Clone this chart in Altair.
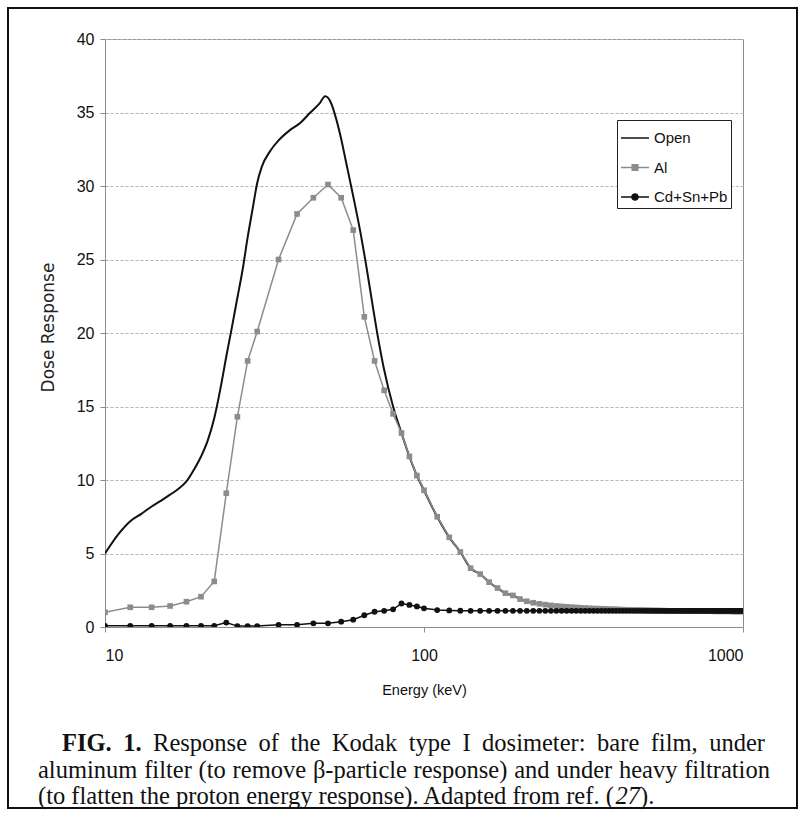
import altair as alt
import pandas as pd

# ---------------- data ----------------
series_names = ["Open", "Al", "Cd+Sn+Pb"]

open_energy = [10, 11, 12, 13, 14, 15, 16, 17, 18, 19, 20, 21, 22, 23, 24, 25, 26, 27, 28, 29,
               30, 31, 33, 35, 38, 41, 44, 47, 49, 51, 53, 55, 57, 60, 63, 66, 69, 72, 75, 80,
               85, 90, 95, 100, 110, 120, 130, 140, 150, 160, 170, 180, 190, 200, 250, 300,
               400, 500, 700, 1000]
open_dose = [5.0, 6.3, 7.2, 7.7, 8.2, 8.6, 9.0, 9.4, 9.9, 10.7, 11.6, 12.7, 14.2, 16.2, 18.4,
             20.4, 22.4, 24.3, 26.5, 28.4, 30.2, 31.3, 32.4, 33.1, 33.8, 34.3, 35.0, 35.6, 36.1,
             35.7, 34.6, 33.2, 31.6, 29.3, 27.0, 24.5, 21.9, 19.5, 17.5, 15.0, 13.2, 11.6, 10.3,
             9.3, 7.5, 6.1, 5.1, 4.0, 3.6, 3.05, 2.65, 2.3, 2.15, 1.9, 1.47, 1.33, 1.2, 1.12,
             1.08, 1.05]

step_energy = [10, 12, 14, 16, 18, 20, 22, 24, 26, 28,
               30, 35, 40, 45, 50, 55, 60, 65, 70, 75,
               80, 85, 90, 95, 100, 110, 120, 130, 140, 150,
               160, 170, 180, 190, 200, 210, 220, 230, 240, 250,
               260, 270, 280, 290, 300, 310, 320, 330, 340, 350,
               360, 370, 380, 390, 400, 410, 420, 430, 440, 450,
               460, 470, 480, 490, 500, 510, 520, 530, 540, 550,
               560, 570, 580, 590, 600, 610, 620, 630, 640, 650,
               660, 670, 680, 690, 700, 710, 720, 730, 740, 750,
               760, 770, 780, 790, 800, 810, 820, 830, 840, 850,
               860, 870, 880, 890, 900, 910, 920, 930, 940, 950,
               960, 970, 980, 990, 1000]

al_dose = [1.0, 1.34, 1.34, 1.43, 1.72, 2.06, 3.1, 9.1, 14.3, 18.1,
           20.1, 25.0, 28.1, 29.2, 30.1, 29.2, 27.0, 21.1, 18.1, 16.1,
           14.5, 13.2, 11.6, 10.3, 9.3, 7.5, 6.1, 5.1, 4.0, 3.6,
           3.05, 2.65, 2.3, 2.15, 1.9, 1.75, 1.65, 1.58, 1.52, 1.47,
           1.43, 1.4, 1.37, 1.35, 1.33, 1.31, 1.29, 1.27, 1.26, 1.25,
           1.24, 1.23, 1.22, 1.21, 1.2, 1.19, 1.18, 1.17, 1.16, 1.16,
           1.15, 1.15, 1.14, 1.14, 1.13, 1.13, 1.12, 1.12, 1.12, 1.11,
           1.11, 1.11, 1.1, 1.1, 1.1, 1.1, 1.1, 1.1, 1.09, 1.09,
           1.09, 1.09, 1.09, 1.08, 1.08, 1.08, 1.08, 1.08, 1.08, 1.08,
           1.08, 1.08, 1.08, 1.08, 1.08, 1.07, 1.07, 1.07, 1.07, 1.07,
           1.07, 1.07, 1.07, 1.07, 1.07, 1.07, 1.07, 1.06, 1.06, 1.06,
           1.06, 1.06, 1.06, 1.06, 1.06]

cd_dose = [0.08, 0.08, 0.08, 0.08, 0.08, 0.08, 0.08, 0.3, 0.06, 0.06,
           0.06, 0.15, 0.15, 0.25, 0.25, 0.36, 0.5, 0.8, 1.04, 1.1,
           1.2, 1.6, 1.5, 1.4, 1.27, 1.15, 1.13, 1.11, 1.1, 1.1,
           1.1, 1.1, 1.1, 1.1, 1.1, 1.1, 1.1, 1.1, 1.1, 1.1,
           1.1, 1.1, 1.1, 1.1, 1.1, 1.1, 1.1, 1.1, 1.1, 1.1,
           1.1, 1.1, 1.1, 1.1, 1.1, 1.1, 1.1, 1.1, 1.1, 1.1,
           1.1, 1.1, 1.1, 1.1, 1.1, 1.1, 1.1, 1.1, 1.1, 1.1,
           1.1, 1.1, 1.1, 1.1, 1.1, 1.1, 1.1, 1.1, 1.1, 1.1,
           1.1, 1.1, 1.1, 1.1, 1.1, 1.1, 1.1, 1.1, 1.1, 1.1,
           1.1, 1.1, 1.1, 1.1, 1.1, 1.1, 1.1, 1.1, 1.1, 1.1,
           1.1, 1.1, 1.1, 1.1, 1.1, 1.1, 1.1, 1.1, 1.1, 1.1,
           1.1, 1.1, 1.1, 1.1, 1.1]

x_ticks = [10, 100, 1000]
y_ticks = [0, 5, 10, 15, 20, 25, 30, 35, 40]

x_title = "Energy (keV)"
y_title = "Dose Response"

caption_bold = "FIG. 1."
caption_line1 = "Response of the Kodak type I dosimeter: bare film, under"
caption_line2 = "aluminum filter (to remove \u03b2-particle response) and under heavy filtration"
caption_line3a = "(to flatten the proton energy response). Adapted from ref. ("
caption_line3b = "27"
caption_line3c = ")."

# ---------------- tables ----------------
open_df = pd.DataFrame({"energy": open_energy, "dose": open_dose})
al_df = pd.DataFrame({"energy": step_energy, "dose": al_dose})
cd_df = pd.DataFrame({"energy": step_energy, "dose": cd_dose})
legend_df = pd.DataFrame({"series": series_names, "energy": [10, 10, 10], "dose": [-50, -50, -50]})
one = pd.DataFrame({"k": [0]})

SANS = "Liberation Sans"
SERIF = "Liberation Serif"
AX = "#8c8c8c"

X = alt.X("energy:Q",
          scale=alt.Scale(type="log", domain=[10, 1000]),
          axis=alt.Axis(values=x_ticks, format="d", title=x_title, grid=False,
                        tickSize=5, labelPadding=15, titlePadding=20,
                        titleFont=SANS, titleFontSize=14.5, titleFontWeight="normal",
                        titleColor="#111"))
Y = alt.Y("dose:Q",
          scale=alt.Scale(domain=[0, 40], nice=False, zero=False),
          axis=alt.Axis(values=y_ticks, title=y_title, grid=True, gridDash=[3, 2],
                        gridColor="#b4b4b4", tickSize=5, labelPadding=6, titlePadding=19,
                        titleY=288,
                        titleFont="DejaVu Sans", titleFontSize=17, titleFontWeight="normal",
                        titleColor="#222"))

open_line = alt.Chart(open_df).mark_line(color="#111", strokeWidth=2, interpolate="monotone",
                                         clip=True).encode(x=X, y=Y)
al_line = alt.Chart(al_df).mark_line(color="#8c8c8c", strokeWidth=1.5, clip=True).encode(x=X, y=Y)
al_pts = alt.Chart(al_df).mark_point(shape="square", filled=True, size=32, color="#8c8c8c",
                                     opacity=1, clip=True).encode(x=X, y=Y)
cd_line = alt.Chart(cd_df).mark_line(color="#111", strokeWidth=1.5, clip=True).encode(x=X, y=Y)
cd_pts = alt.Chart(cd_df).mark_circle(size=34, color="#111", opacity=1, clip=True).encode(x=X, y=Y)

path_open = "M-1,0H1"
path_al = "M-1,0H1M-0.2,-0.2H0.2V0.2H-0.2Z"
path_cd = "M-1,0H1M-0.22,0A0.22,0.22,0,1,1,0.22,0A0.22,0.22,0,1,1,-0.22,0Z"

leg = alt.Legend(orient="none", legendX=512, legendY=81, title=None, direction="vertical",
                 symbolSize=784, symbolStrokeWidth=1.5, labelFont=SANS, labelFontSize=15,
                 labelColor="#111", strokeColor="#222", fillColor="white", padding=3,
                 rowPadding=6.5, labelOffset=4)
legend_layer = alt.Chart(legend_df).mark_point(filled=True, clip=True, opacity=1).encode(
    x=X, y=Y,
    fill=alt.Fill("series:N", scale=alt.Scale(domain=series_names,
                                              range=["#111", "#8c8c8c", "#111"]), legend=leg),
    stroke=alt.Stroke("series:N", scale=alt.Scale(domain=series_names,
                                                  range=["#111", "#8c8c8c", "#111"]), legend=leg),
    shape=alt.Shape("series:N", scale=alt.Scale(domain=series_names,
                                                range=[path_open, path_al, path_cd]), legend=leg),
)

border = alt.Chart(one).mark_rect(fillOpacity=0, stroke="#111", strokeWidth=2).encode(
    x=alt.value(-97), x2=alt.value(692), y=alt.value(-31), y2=alt.value(769))

# ---------------- justified caption (Times metrics, per 1000 em) ----------------
CAP_SIZE = 24.5
ORIGIN_X = 105
TIMES = {" ": 250, "a": 444, "b": 500, "c": 444, "d": 500, "e": 444, "f": 333, "g": 500,
         "h": 500, "i": 278, "j": 278, "k": 500, "l": 278, "m": 778, "n": 500, "o": 500,
         "p": 500, "q": 500, "r": 333, "s": 389, "t": 278, "u": 500, "v": 500, "w": 722,
         "x": 500, "y": 500, "z": 444, "A": 722, "F": 556, "G": 722, "I": 333, "K": 722,
         "R": 667, "(": 333, ")": 333, ".": 250, ",": 250, ":": 278, "-": 333, "1": 500,
         "2": 500, "7": 500, "\u03b2": 500}
TIMES_BOLD = {"F": 611, "I": 389, "G": 778, ".": 250, " ": 250, "1": 500}


def tw(s, bold=False):
    table = TIMES_BOLD if bold else TIMES
    return sum(table.get(c, 500) for c in s) / 1000.0 * CAP_SIZE


def word(text, x_abs, y, weight="normal", style="normal"):
    return alt.Chart(one).mark_text(font=SERIF, fontSize=CAP_SIZE, align="left",
                                    baseline="middle", color="#111", fontWeight=weight,
                                    fontStyle=style).encode(
        x=alt.value(round(x_abs - ORIGIN_X, 1)), y=alt.value(y), text=alt.value(text))


def justify(words, bolds, x0, x1, y):
    widths = [tw(w, b) for w, b in zip(words, bolds)]
    gap = (x1 - x0 - sum(widths)) / (len(words) - 1)
    marks, x = [], x0
    for w, b, wd in zip(words, bolds, widths):
        marks.append(word(w, x, y, weight="bold" if b else "normal"))
        x += wd + gap
    return marks


l1_words = caption_bold.split(" ") + caption_line1.split(" ")
l1_bold = [True, True] + [False] * len(caption_line1.split(" "))
l2_words = caption_line2.split(" ")
captions = []
captions += justify(l1_words, l1_bold, 62, 765, 705)
captions += justify(l2_words, [False] * len(l2_words), 38, 770, 732)
x3 = 38
captions.append(word(caption_line3a, x3, 758))
x3 += tw(caption_line3a)
captions.append(word(caption_line3b, x3, 758, style="italic"))
x3 += tw(caption_line3b)
captions.append(word(caption_line3c, x3, 758))

chart = alt.layer(
    open_line, al_line, al_pts, cd_line, cd_pts, legend_layer, border, *captions
).properties(
    width=638, height=588,
    padding={"left": 105, "top": 39, "right": 63, "bottom": 189},
    autosize=alt.AutoSizeParams(type="none"),
    background="white",
).configure_view(
    stroke=AX, strokeWidth=1
).configure_axis(
    domainColor=AX, tickColor=AX, labelColor="#111", labelFont=SANS, labelFontSize=16,
)

chart.save("out.html", embed_options={"renderer": "svg", "actions": False})
